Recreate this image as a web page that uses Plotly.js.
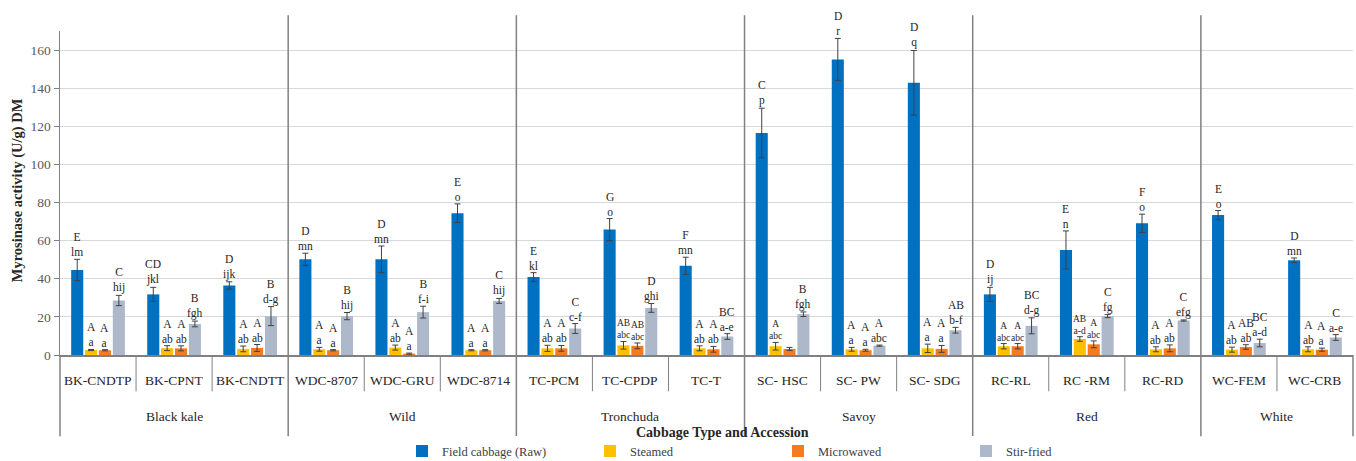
<!DOCTYPE html>
<html>
<head>
<meta charset="utf-8">
<script src="https://cdn.plot.ly/plotly-3.0.1.min.js"></script>
<style>
  html, body { margin: 0; padding: 0; background: #ffffff; }
  #chart { width: 1356px; height: 461px; }
</style>
</head>
<body>
<div id="chart"></div>
<script>
// ---------------- data ----------------
const accessions = ["BK-CNDTP", "BK-CPNT", "BK-CNDTT", "WDC-8707", "WDC-GRU", "WDC-8714",
  "TC-PCM", "TC-CPDP", "TC-T", "SC- HSC", "SC- PW", "SC- SDG",
  "RC-RL", "RC -RM", "RC-RD", "WC-FEM", "WC-CRB"];
const groups = ["Black kale", "Wild", "Tronchuda", "Savoy", "Red", "White"];
const groupSizes = [3, 3, 3, 3, 3, 2];

const seriesNames = ["Field cabbage (Raw)", "Steamed", "Microwaved", "Stir-fried"];

const raw      = [44.6, 31.8, 36.5, 50.2, 50.2, 74.4, 40.9, 65.8, 46.8, 116.5, 155.1, 142.8, 31.8, 55.1, 69.1, 73.4, 49.7];
const rawErr   = [5.6, 3.7, 1.9, 3.2, 7.0, 4.9, 2.3, 5.8, 4.5, 13.0, 11.0, 17.0, 3.7, 10.0, 4.8, 2.4, 1.2];
const steamed  = [2.6, 3.6, 3.2, 3.0, 3.9, 2.5, 3.5, 5.1, 3.5, 4.6, 3.0, 3.5, 4.6, 8.4, 3.0, 2.8, 3.0];
const steamedErr = [0.3, 1.3, 1.5, 1.0, 1.3, 0.3, 1.6, 2.0, 1.3, 2.0, 1.0, 2.2, 1.4, 1.2, 1.3, 1.3, 1.3];
const micro    = [2.5, 3.5, 3.7, 2.5, 0.7, 2.5, 3.5, 4.8, 3.0, 3.2, 2.5, 3.2, 4.6, 5.6, 3.5, 4.2, 2.8];
const microErr = [0.3, 1.3, 1.8, 0.3, 0.3, 0.3, 1.5, 1.5, 1.5, 0.8, 0.5, 1.8, 1.4, 1.8, 1.8, 1.2, 0.8];
const stir     = [28.6, 16.3, 20.4, 20.4, 22.5, 28.4, 13.9, 24.7, 9.7, 21.4, 4.9, 13.0, 15.3, 20.4, 18.1, 6.3, 9.2];
const stirErr  = [2.7, 1.5, 5.0, 1.9, 3.1, 1.3, 2.6, 2.3, 1.5, 1.2, 0.3, 1.5, 4.2, 0.8, 0.3, 2.0, 1.5];

// significance letters (upper = between treatments, lower = between accessions)
const rawUpper = ["E","CD","D","D","D","E","E","G","F","C","D","D","D","E","F","E","D"];
const rawLower = ["lm","jkl","ijk","mn","mn","o","kl","o","mn","p","r","q","ij","n","o","o","mn"];
const steamedUpper = ["A","A","A","A","A","A","A","AB","A","A","A","A","A","AB","A","A","A"];
const steamedLower = ["a","ab","ab","a","ab","a","ab","abc","ab","abc","a","a","abc","a-d","ab","ab","ab"];
const microUpper = ["A","A","A","A","A","A","A","AB","A","","A","A","A","A","A","AB","A"];
const microLower = ["a","ab","ab","a","a","a","ab","abc","ab","","a","a","abc","abc","ab","ab","a"];
const stirUpper = ["C","B","B","B","B","C","C","D","BC","B","A","AB","BC","C","C","BC","C"];
const stirLower = ["hij","fgh","d-g","hij","f-i","hij","c-f","ghi","a-e","fgh","abc","b-f","d-g","fg","efg","a-d","a-e"];

const yTicks = [0, 20, 40, 60, 80, 100, 120, 140, 160];
const yTitle = "Myrosinase activity (U/g) DM";
const xTitle = "Cabbage Type and Accession";

// ---------------- styles ----------------
const colors = ["#0070C0", "#FFC000", "#F47B20", "#ADB9CA"];
const FONT = "Liberation Serif, Times New Roman, serif";
const bargap = 0.27, bargroupgap = 0.13;
const yMax = 170;

const values = [raw, steamed, micro, stir];
const errs = [rawErr, steamedErr, microErr, stirErr];
const uppers = [rawUpper, steamedUpper, microUpper, stirUpper];
const lowers = [rawLower, steamedLower, microLower, stirLower];
const xIdx = accessions.map((_, i) => i);

const traces = seriesNames.map((name, s) => ({
  type: "bar",
  name: name,
  x: xIdx,
  y: values[s],
  marker: { color: colors[s], line: { width: 0 } },
  error_y: { type: "data", array: errs[s], visible: true, color: "#404040", thickness: 1, width: 3 },
  hoverinfo: "y+name"
}));

// annotation positions derived from bar geometry
const slot = (1 - bargap) / seriesNames.length;
const annotations = [];
for (let s = 0; s < seriesNames.length; s++) {
  const off = -(1 - bargap) / 2 + slot * (s + 0.5);
  for (let i = 0; i < accessions.length; i++) {
    if (!uppers[s][i] && !lowers[s][i]) continue;
    const small = lowers[s][i].length >= 3 && s !== 3 && s !== 0;
    annotations.push({
      x: i + off, y: values[s][i] + errs[s][i], xref: "x", yref: "y",
      text: uppers[s][i] + "<br>" + lowers[s][i],
      showarrow: false, yanchor: "bottom", xanchor: "center",
      font: { family: FONT, size: small ? 9.5 : 11.5, color: "#262626" },
      borderpad: 0
    });
  }
}

// category labels
const plotH = 461 - 31 - 106;
const pY = px => (354.7 - px) / plotH; // pixel y -> paper y
accessions.forEach((a, i) => {
  annotations.push({
    x: i, y: pY(380), xref: "x", yref: "paper", text: a, showarrow: false,
    yanchor: "middle", xanchor: "center",
    font: { family: FONT, size: 13.5, color: "#262626" }
  });
});
// group labels
let start = 0;
const boundaries = [-0.5];
groups.forEach((g, k) => {
  const n = groupSizes[k];
  annotations.push({
    x: start + (n - 1) / 2, y: pY(416), xref: "x", yref: "paper", text: g, showarrow: false,
    yanchor: "middle", xanchor: "center",
    font: { family: FONT, size: 13.5, color: "#262626" }
  });
  start += n;
  boundaries.push(start - 0.5);
});
// axis titles
annotations.push({
  x: (722 - 60) / 1293, y: pY(432), xref: "paper", yref: "paper", text: "<b>" + xTitle + "</b>",
  showarrow: false, xanchor: "center", yanchor: "middle",
  font: { family: FONT, size: 14, color: "#262626" }
});
annotations.push({
  x: (17 - 60) / 1293, y: pY(190), xref: "paper", yref: "paper", text: "<b>" + yTitle + "</b>",
  showarrow: false, xanchor: "center", yanchor: "middle", textangle: -90,
  font: { family: FONT, size: 14.5, color: "#262626" }
});

// separators
const nCat = accessions.length;
const px = b => (b + 0.5) / nCat;
const shapes = [];
for (let b = -0.5; b <= nCat - 0.5 + 1e-9; b += 1) {
  const isGroup = boundaries.some(v => Math.abs(v - b) < 1e-6);
  const isEdge = Math.abs(b + 0.5) < 1e-6 || Math.abs(b - (nCat - 0.5)) < 1e-6;
  if (isGroup && !isEdge) {
    shapes.push({ type: "line", xref: "paper", yref: "paper", x0: px(b), x1: px(b), y0: pY(15), y1: pY(436),
      line: { color: "#808080", width: 1.5 } });
  } else if (isEdge) {
    shapes.push({ type: "line", xref: "paper", yref: "paper", x0: px(b), x1: px(b), y0: 0, y1: pY(436),
      line: { color: "#808080", width: 1.5 } });
  } else {
    shapes.push({ type: "line", xref: "paper", yref: "paper", x0: px(b), x1: px(b), y0: 0, y1: pY(391),
      line: { color: "#808080", width: 1 } });
  }
}

const layout = {
  width: 1356, height: 461,
  margin: { l: 60, r: 3, t: 31, b: 106, pad: 0, autoexpand: false },
  paper_bgcolor: "#ffffff", plot_bgcolor: "#ffffff",
  barmode: "group", bargap: bargap, bargroupgap: bargroupgap,
  showlegend: true,
  legend: {
    orientation: "h", x: (402 - 60) / 1293, xanchor: "left", y: pY(451), yanchor: "middle",
    font: { family: FONT, size: 12.5, color: "#404040" },
    itemwidth: 30,
    entrywidth: 143, entrywidthmode: "pixels", itemclick: false, itemdoubleclick: false,
    tracegroupgap: 0
  },
  xaxis: {
    range: [-0.5, nCat - 0.5], showticklabels: false, showgrid: false, zeroline: false,
    showline: true, linecolor: "#808080", linewidth: 1.5, ticks: "", fixedrange: true
  },
  yaxis: {
    range: [0, yMax], tickvals: yTicks, ticktext: yTicks.map(String),
    showgrid: true, gridcolor: "#d9d9d9", gridwidth: 1, zeroline: false,
    showline: true, linecolor: "#808080", linewidth: 1.5,
    ticks: "outside", ticklen: 5, tickcolor: "#808080", tickwidth: 1,
    tickfont: { family: FONT, size: 13.5, color: "#595959" }, fixedrange: true
  },
  annotations: annotations,
  shapes: shapes,
  font: { family: FONT }
};

Plotly.newPlot("chart", traces, layout, { displayModeBar: false, staticPlot: true });
</script>
</body>
</html>
